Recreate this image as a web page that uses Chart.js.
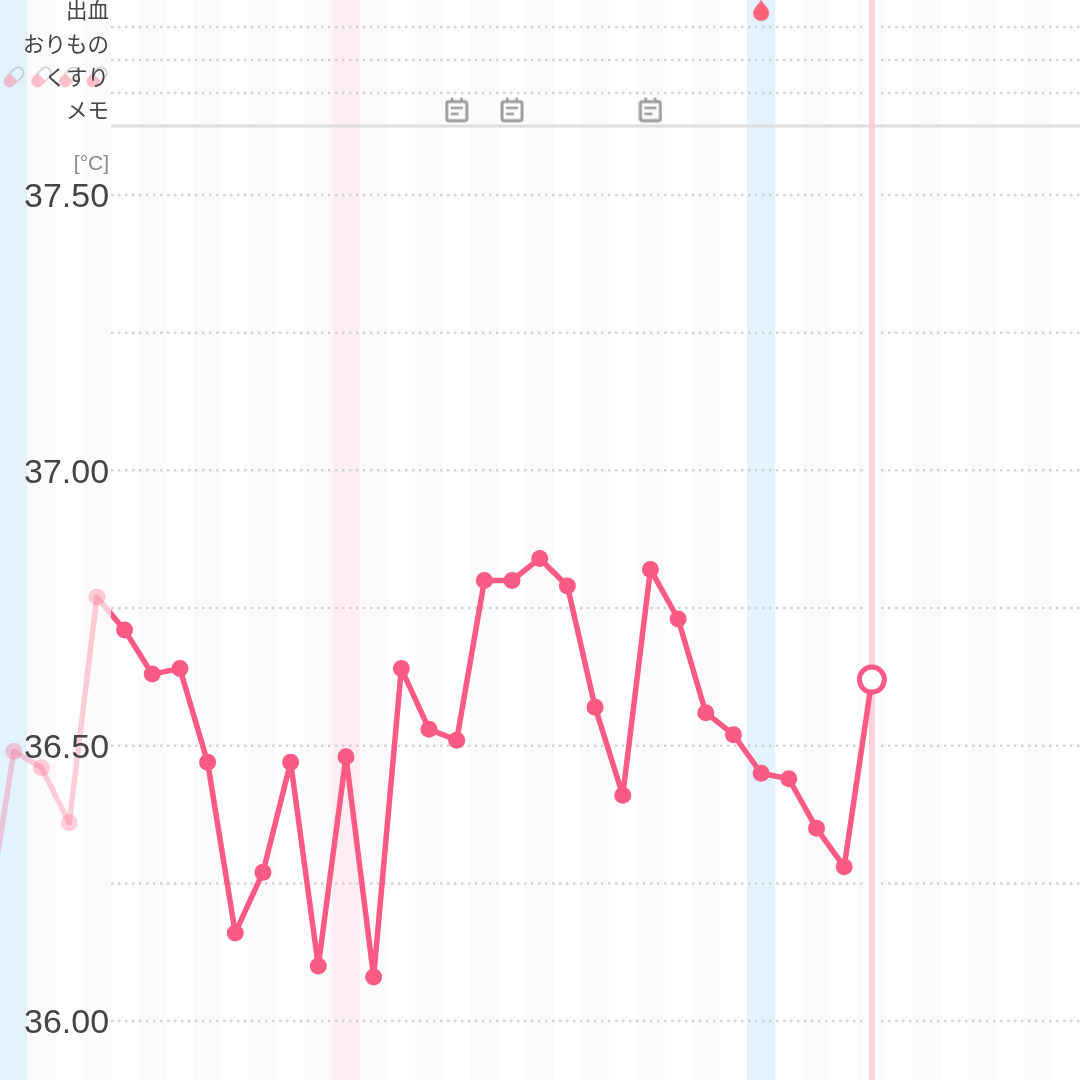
<!DOCTYPE html>
<html>
<head>
  <meta charset="utf-8" />
  <title>基礎体温</title>
  <script src="https://cdn.jsdelivr.net/npm/chart.js@4.4.0/dist/chart.umd.min.js"></script>
  <style>
    html, body { margin: 0; padding: 0; background: #fff; }
    canvas { display: block; }
  </style>
</head>
<body>
<canvas id="tempChart" width="1080" height="1080"></canvas>

<script>
  // day -1 is cut off by the left edge, the last value is today
  const days = [-1, 0, 1, 2, 3, 4, 5, 6, 7, 8, 9, 10, 11, 12, 13, 14, 15, 16, 17, 18, 19, 20, 21, 22, 23, 24, 25, 26, 27, 28, 29, 30, 31];
  const temps = [36.17, 36.49, 36.46, 36.36, 36.77, 36.71, 36.63, 36.64, 36.47, 36.16, 36.27, 36.47, 36.10, 36.48, 36.08, 36.64, 36.53, 36.51, 36.80, 36.80, 36.84, 36.79, 36.57, 36.41, 36.82, 36.73, 36.56, 36.52, 36.45, 36.44, 36.35, 36.28, 36.62];

  const tintDays = [1, 3, 5, 7, 9, 11, 13, 15, 17, 19, 21, 23, 25, 29, 31, 33, 35, 37];
  const blueDays = [0, 27];
  const pinkDays = [12];
  const todayDay = 31;

  const pillDays = [0, 1, 2, 3];
  const bleedDays = [27];
  const memoDays = [16, 18, 23];

  const gridLevels = [36, 36.25, 36.5, 36.75, 37, 37.25, 37.5, 37.685, 37.745, 37.805];
  const headerLine = 37.625;

  const tickValues = [36, 36.5, 37, 37.5];
  const tickLabels = ['36.00', '36.50', '37.00', '37.50'];
  const rowValues = [37.842, 37.78, 37.72, 37.66];
  const rowLabels = ['出血', 'おりもの', 'くすり', 'メモ'];
  const unitValue = 37.562;
  const unitLabel = '[°C]';

  const xMin = -0.5, xMax = 38.52, yMin = 35.893, yMax = 37.854;
  const gridStart = 3.51, labelEdge = 3.44;
  const rowPill = 37.714, rowBleed = 37.835, rowMemo = 37.655;

  const PINK = '#fb5a84';

  function makeIcon(w, h, draw) {
    const c = document.createElement('canvas');
    c.width = w;
    c.height = h;
    draw(c.getContext('2d'));
    return c;
  }

  const dropIcon = makeIcon(18, 24, g => {
    g.fillStyle = '#fb6478';
    g.beginPath();
    g.moveTo(9, 1);
    g.bezierCurveTo(11, 6, 17, 9, 17, 14.5);
    g.arc(9, 14.5, 8, 0, Math.PI);
    g.bezierCurveTo(1, 9, 7, 6, 9, 1);
    g.fill();
  });

  const memoIcon = makeIcon(24, 26, g => {
    g.strokeStyle = '#9c9c9c';
    g.fillStyle = '#9c9c9c';
    g.lineWidth = 3;
    g.beginPath();
    g.roundRect(2, 5, 20, 19, 2);
    g.stroke();
    g.fillRect(6, 1, 2.5, 4);
    g.fillRect(15.5, 1, 2.5, 4);
    g.fillRect(6, 10, 12, 2.5);
    g.fillRect(6, 16, 8, 2.5);
  });

  const pillIcon = makeIcon(28, 28, g => {
    g.translate(14, 14);
    g.rotate(-Math.PI / 4);
    g.globalAlpha = 0.55;
    g.fillStyle = '#f58ca0';
    g.beginPath();
    g.arc(-6, 0, 6, Math.PI / 2, Math.PI * 1.5);
    g.lineTo(0, -6);
    g.lineTo(0, 6);
    g.closePath();
    g.fill();
    g.strokeStyle = '#a8a8a8';
    g.lineWidth = 1.5;
    g.beginPath();
    g.moveTo(0, -5.5);
    g.lineTo(6, -5.5);
    g.arc(6, 0, 5.5, -Math.PI / 2, Math.PI / 2);
    g.lineTo(0, 5.5);
    g.stroke();
  });

  function bandDataset(list, color) {
    return {
      type: 'bar',
      data: list.map(d => ({ x: d, y: [yMin, yMax] })),
      backgroundColor: color,
      barThickness: 27.7,
      grouped: false,
      order: 50
    };
  }

  function iconDataset(list, level, icon) {
    return {
      type: 'line',
      data: list.map(d => ({ x: d, y: level })),
      showLine: false,
      pointStyle: icon,
      pointRadius: 10,
      order: 5
    };
  }

  const gridDatasets = gridLevels.map(v => ({
    type: 'line',
    data: [{ x: gridStart, y: v }, { x: xMax, y: v }],
    borderColor: '#d2d2d2',
    borderWidth: 2.5,
    borderDash: [2.5, 4.5],
    pointRadius: 0,
    order: 40
  }));

  const points = days.map((d, i) => ({ x: d, y: temps[i] }));
  const lastIndex = points.length - 1;

  const tickValueOf = ctx => (ctx.tick ? ctx.tick.value : null);

  new Chart(document.getElementById('tempChart'), {
    type: 'line',
    data: {
      datasets: [
        bandDataset(tintDays, '#fdfafb'),
        bandDataset(blueDays, '#e3f3fe'),
        bandDataset(pinkDays, '#ffeef1'),
        ...gridDatasets,
        {
          // gap in the dotted lines around today
          type: 'line',
          data: [{ x: todayDay, y: yMin }, { x: todayDay, y: yMax }],
          borderColor: '#ffffff',
          borderWidth: 13,
          pointRadius: 0,
          order: 30
        },
        {
          type: 'line',
          data: [{ x: gridStart, y: headerLine }, { x: xMax, y: headerLine }],
          borderColor: '#dedede',
          borderWidth: 3,
          pointRadius: 0,
          order: 25
        },
        {
          type: 'line',
          data: [{ x: todayDay, y: yMin }, { x: todayDay, y: yMax }],
          borderColor: '#fdd0da',
          borderWidth: 6,
          pointRadius: 0,
          order: 20
        },
        iconDataset(pillDays, rowPill, pillIcon),
        iconDataset(bleedDays, rowBleed, dropIcon),
        iconDataset(memoDays, rowMemo, memoIcon),
        {
          // part of the curve under the label column
          type: 'line',
          data: points,
          borderColor: 'rgba(251,90,132,0.3)',
          backgroundColor: 'rgba(251,90,132,0.3)',
          borderWidth: 5.5,
          borderJoinStyle: 'round',
          pointRadius: 8.5,
          pointBorderWidth: 0,
          tension: 0,
          clip: { left: 0, top: 0, bottom: 0, right: -969 },
          order: 3
        },
        {
          type: 'line',
          data: points,
          borderColor: PINK,
          borderWidth: 5.5,
          borderJoinStyle: 'round',
          tension: 0,
          pointRadius: ctx => ctx.dataIndex === lastIndex ? 12.5 : 8.5,
          pointBackgroundColor: ctx => ctx.dataIndex === lastIndex ? '#ffffff' : PINK,
          pointBorderColor: PINK,
          pointBorderWidth: ctx => ctx.dataIndex === lastIndex ? 5 : 0,
          clip: { left: -111, top: 0, bottom: 0, right: 0 },
          order: 1
        }
      ]
    },
    options: {
      responsive: false,
      animation: false,
      events: [],
      layout: { padding: 0, autoPadding: false },
      plugins: { legend: { display: false }, title: { display: false }, tooltip: { enabled: false } },
      scales: {
        x: {
          type: 'linear',
          display: false,
          offset: false,
          min: xMin,
          max: xMax,
          grid: { display: false, offset: false }
        },
        y: {
          type: 'linear',
          position: { x: labelEdge },
          min: yMin,
          max: yMax,
          grid: { display: false, drawTicks: false },
          border: { display: false },
          afterBuildTicks: scale => {
            scale.ticks = [...tickValues, unitValue, ...rowValues].map(value => ({ value }));
          },
          afterFit: scale => {
            // labels sit inside the plot, so the axis takes no room
            scale.paddingTop = 0;
            scale.paddingBottom = 0;
            scale.paddingLeft = 0;
            scale.paddingRight = 0;
          },
          ticks: {
            z: 1,
            padding: 0,
            labelOffset: 3,
            autoSkip: false,
            callback: value => {
              if (value === unitValue) return unitLabel;
              const r = rowValues.indexOf(value);
              if (r >= 0) return rowLabels[r];
              return tickLabels[tickValues.indexOf(value)];
            },
            color: ctx => tickValueOf(ctx) === unitValue ? '#8a8a8a' : '#444444',
            font: ctx => {
              const v = tickValueOf(ctx);
              if (v === unitValue) return { family: '"Liberation Sans"', size: 21 };
              if (rowValues.includes(v)) return { family: '"Noto Sans CJK JP"', size: 21.5 };
              return { family: '"Liberation Sans"', size: 34 };
            }
          }
        }
      }
    }
  });
</script>
</body>
</html>
